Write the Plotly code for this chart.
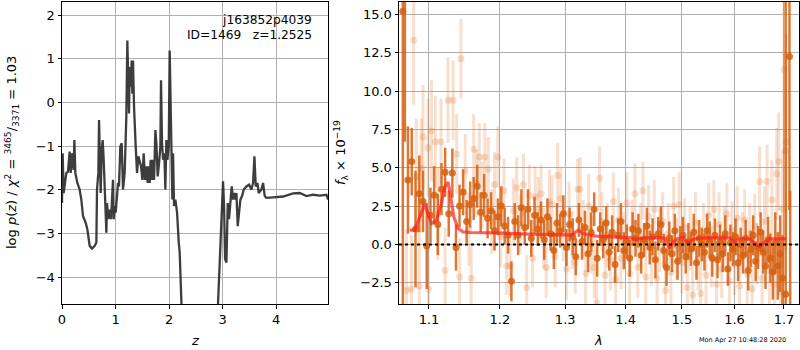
import plotly.graph_objects as go
import math

# ---------------- left panel: log p(z) ----------------
z_grid = [0.000, 0.012, 0.031, 0.056, 0.081, 0.112, 0.143, 0.162, 0.193, 0.218,
          0.231, 0.249, 0.287, 0.330, 0.361, 0.393, 0.442, 0.474, 0.517, 0.561,
          0.611, 0.642, 0.654, 0.679, 0.692, 0.704, 0.723, 0.742, 0.760, 0.779,
          0.798, 0.829, 0.841, 0.866, 0.891, 0.916, 0.928, 0.953, 0.966, 0.984,
          1.003, 1.028, 1.047, 1.065, 1.090, 1.115, 1.140, 1.171, 1.202, 1.221,
          1.240, 1.252, 1.265, 1.283, 1.302, 1.315, 1.327, 1.346, 1.377, 1.402,
          1.427, 1.452, 1.477, 1.502, 1.526, 1.551, 1.576, 1.601, 1.620, 1.639,
          1.657, 1.676, 1.701, 1.720, 1.745, 1.763, 1.788, 1.813, 1.838, 1.850,
          1.869, 1.888, 1.913, 1.931, 1.950, 1.969, 1.994, 2.012, 2.031, 2.050,
          2.062, 2.075, 2.093, 2.118, 2.150, 2.181, 2.199, 2.231, 2.300, 2.600,
          2.880, 2.916, 2.947, 2.978, 3.009, 3.028, 3.047, 3.072, 3.097, 3.121,
          3.146, 3.171, 3.196, 3.215, 3.240, 3.259, 3.283, 3.308, 3.333, 3.364,
          3.396, 3.445, 3.495, 3.539, 3.570, 3.595, 3.620, 3.651, 3.676, 3.726,
          3.757, 3.788, 3.819, 3.944, 4.131, 4.318, 4.442, 4.567, 4.692, 4.816,
          4.941, 4.972]
log_pz = [-2.30, -1.16, -2.07, -1.77, -1.61, -1.58, -1.12, -1.61, -1.16, -1.54,
          -0.86, -1.61, -1.84, -1.99, -2.22, -2.60, -2.75, -2.90, -3.28, -3.34,
          -3.28, -3.20, -1.99, -1.61, -0.40, -1.08, -2.07, -1.08, -0.86, -1.31,
          -2.07, -2.98, -2.30, -2.67, -2.45, -2.67, -2.37, -1.77, -2.67, -2.37,
          -2.52, -2.22, -1.84, -1.92, -1.01, -0.93, -1.99, -1.61, -0.33, 1.42,
          0.05, -0.25, 0.81, 0.36, 0.96, 0.20, 0.96, -0.10, -1.01, -1.61,
          -1.23, -1.39, -1.46, -1.77, -1.16, -1.77, -1.46, -1.84, -1.46, -1.84,
          -1.31, -1.77, -1.31, -1.77, -0.63, -0.93, -1.69, -1.39, -1.01, 0.51,
          -0.93, -1.31, -1.16, -1.99, -0.86, -1.31, -1.01, 1.19, -0.48, -1.31,
          -2.22, -1.16, -2.37, -2.22, -2.52, -3.20, -3.43, -4.57, -6.50, -9.00,
          -6.00, -4.58, -3.73, -2.98, -1.80, -2.37, -3.58, -3.66, -2.30, -2.67,
          -2.30, -1.92, -2.22, -2.07, -2.22, -2.07, -2.83, -2.45, -2.22, -2.14,
          -1.99, -1.92, -1.88, -1.99, -1.84, -1.23, -1.92, -1.84, -2.07, -1.99,
          -1.84, -2.14, -2.18, -2.17, -2.15, -2.08, -2.07, -2.14, -2.11, -2.13,
          -2.11, -2.22]

# ---------------- right panel: spectrum ----------------
# model
lam_model = [1.0743, 1.0810, 1.0876, 1.0943, 1.0987, 1.1033, 1.1101, 1.1168, 1.1215, 1.1260,
             1.1290, 1.1340, 1.1400, 1.1470, 1.1565, 1.1949, 1.2448, 1.2966, 1.3100, 1.3207,
             1.3289, 1.3509, 1.3844, 1.4070, 1.4189, 1.4305, 1.4601, 1.4690, 1.4768, 1.4841,
             1.4931, 1.5023, 1.5115, 1.5207, 1.5333, 1.5908, 1.6005, 1.6105, 1.6302, 1.6437,
             1.6503, 1.6570, 1.6707, 1.6845, 1.7040]
flux_model = [0.93, 0.93, 1.80, 2.62, 2.01, 1.36, 1.58, 2.66, 3.74, 4.07,
              3.31, 1.80, 1.04, 0.82, 0.78, 0.76, 0.67, 0.61, 0.61, 0.93,
              0.71, 0.54, 0.50, 0.45, 0.32, 0.43, 0.45, 0.39, -0.26, 0.17,
              0.39, 0.45, 0.06, 0.32, 0.43, 0.43, 0.17, 0.37, 0.37, -0.04,
              -0.15, 0.06, 0.37, 0.39, 0.37]

# binned (dark) points
lam_dark = [1.0653, 1.0680,
            1.072, 1.077, 1.082, 1.087, 1.092, 1.097, 1.102, 1.107, 1.112, 1.117,
            1.122, 1.127, 1.132, 1.137, 1.142, 1.147, 1.152, 1.157, 1.162, 1.167,
            1.172, 1.177, 1.182, 1.187, 1.192, 1.197, 1.202, 1.207, 1.212, 1.217,
            1.222, 1.227, 1.232, 1.237, 1.242, 1.247, 1.252, 1.257, 1.262, 1.267,
            1.272, 1.277, 1.282, 1.287, 1.292, 1.297, 1.302, 1.307, 1.312, 1.317,
            1.322, 1.327, 1.332, 1.337, 1.342, 1.347, 1.352, 1.357, 1.362, 1.367,
            1.372, 1.377, 1.382, 1.387, 1.392, 1.397, 1.402, 1.407, 1.412, 1.417,
            1.422, 1.427, 1.432, 1.437, 1.442, 1.447, 1.452, 1.457, 1.462, 1.467,
            1.472, 1.477, 1.482, 1.487, 1.492, 1.497, 1.502, 1.507, 1.512, 1.517,
            1.522, 1.527, 1.532, 1.537, 1.542, 1.547, 1.552, 1.557, 1.562, 1.567,
            1.572, 1.577, 1.582, 1.587, 1.592, 1.597, 1.602, 1.607, 1.612, 1.617,
            1.622, 1.627, 1.632, 1.637, 1.642, 1.647, 1.652, 1.657, 1.662, 1.667,
            1.672, 1.677, 1.682, 1.687, 1.692, 1.697,
            1.7035, 1.7115, 1.7130]
flux_dark = [15.2, 20.0,
             4.2, 5.4, 1.0, 3.3, 2.8, -0.1, 1.9, 3.2, 1.3, 3.6,
             4.7, 2.0, 4.65, -0.2, 2.5, 3.4, 1.5, 2.6, 3.0, 3.8,
             2.1, 3.2, 1.7, 2.2, 0.9, 1.8, 2.5, 1.2, 0.6, -2.4,
             1.5, 0.6, 2.4, 1.1, 2.3, 0.4, 1.9, 1.0, 1.6, 0.3,
             1.8, 0.7, -0.4, 1.4, 0.9, 2.0, -0.2, 1.3, 0.5, -0.8,
             1.6, 0.2, 1.1, -0.6, 0.8, 2.3, -0.9, 1.0, 0.3, 1.4,
             -0.5, 0.8, -1.3, 0.6, 1.5, -0.4, 0.2, -0.9, 1.0, 0.4,
             0.9, -0.7, 0.3, 1.2, -0.2, 0.5, -1.0, 0.7, 1.3, -0.4,
             -1.5, 0.4, -0.6, 0.9, -1.1, 0.1, 0.6, -0.8, 0.2, -0.3,
             0.8, -1.2, 0.4, 0.0, -0.5, 0.9, 0.3, -0.9, 0.6, -1.0,
             0.2, -0.6, 0.7, -1.6, 0.1, -0.3, 0.5, -1.2, 0.0, -0.7,
             0.4, -1.7, -0.3, 0.6, -1.1, -0.2, 0.8, -0.5, -1.4, 0.3,
             -0.9, -1.8, 0.1, -1.4, -0.6, -2.2,
             -3.25, 12.25, -5.0]
err_dark = [25.0, 13.3,
            3.5, 2.2, 3.8, 2.5, 2.0, 2.8, 1.8, 1.9, 2.0, 1.7,
            1.6, 1.5, 1.6, 1.5, 1.4, 1.5, 1.4, 1.5, 1.4, 1.4,
            1.3, 1.4, 1.3, 1.2, 1.3, 1.2, 1.3, 1.2, 1.2, 1.3,
            1.2, 1.3, 1.2, 1.1, 1.3, 1.2, 1.2, 1.1, 1.2, 1.3,
            1.2, 1.1, 1.2, 1.3, 1.1, 1.2, 1.2, 1.1, 1.2, 1.2,
            1.1, 1.2, 1.1, 1.2, 1.3, 1.1, 1.2, 1.1, 1.2, 1.1,
            1.2, 1.1, 1.2, 1.1, 1.2, 1.2, 1.1, 1.2, 1.1, 1.2,
            1.1, 1.2, 1.1, 1.2, 1.1, 1.2, 1.2, 1.1, 1.2, 1.1,
            1.2, 1.1, 1.2, 1.1, 1.2, 1.1, 1.2, 1.1, 1.2, 1.1,
            1.2, 1.1, 1.2, 1.1, 1.2, 1.1, 1.2, 1.2, 1.1, 1.2,
            1.1, 1.2, 1.2, 1.1, 1.2, 1.1, 1.2, 1.2, 1.1, 1.2,
            1.2, 1.3, 1.2, 1.3, 1.3, 1.4, 1.3, 1.4, 1.5, 1.5,
            1.6, 1.8, 2.0, 2.2, 2.5, 2.8,
            25.0, 10.0, 8.5]

# unbinned (light) points
lam_light = [1.0700, 1.0765, 1.0795, 1.0830, 1.0870, 1.0900, 1.0920, 1.0987, 1.0995, 1.1033,
             1.1085, 1.1120, 1.1163, 1.1220, 1.1260, 1.1330, 1.1380, 1.1420, 1.1440, 1.1500,
             1.1550, 1.1585, 1.1620, 1.1660, 1.1700, 1.1740, 1.1780, 1.1830, 1.1880, 1.1920,
             1.1970, 1.2010, 1.2060, 1.2100, 1.2150, 1.2200, 1.2250, 1.2300, 1.2350, 1.2400,
             1.2440, 1.2490, 1.2530, 1.2580, 1.2620, 1.2660, 1.2700, 1.2750, 1.2790, 1.2840,
             1.2880, 1.2930, 1.2970, 1.3020, 1.3060, 1.3110, 1.3160, 1.3200, 1.3240, 1.3290,
             1.3330, 1.3380, 1.3420, 1.3470, 1.3510, 1.3560, 1.3600, 1.3650, 1.3690, 1.3740,
             1.3790, 1.3830, 1.3880, 1.3920, 1.3970, 1.4020, 1.4070, 1.4110, 1.4160, 1.4210,
             1.4260, 1.4300, 1.4350, 1.4400, 1.4450, 1.4500, 1.4550, 1.4600, 1.4650, 1.4700,
             1.4750, 1.4800, 1.4850, 1.4900, 1.4950, 1.5000, 1.5050, 1.5100, 1.5150, 1.5200,
             1.5250, 1.5300, 1.5350, 1.5400, 1.5450, 1.5500, 1.5550, 1.5600, 1.5650, 1.5700,
             1.5750, 1.5800, 1.5850, 1.5900, 1.5950, 1.6000, 1.6050, 1.6100, 1.6150, 1.6200,
             1.6250, 1.6300, 1.6350, 1.6400, 1.6450, 1.6500, 1.6550, 1.6600, 1.6650, 1.6700,
             1.6750, 1.6800, 1.6850, 1.6890, 1.6930, 1.6970, 1.7000, 1.7030, 1.7045]
flux_light = [-3.0, -2.9, 13.3, 4.4, -2.7, 5.0, 7.0, 6.3, -2.9, 7.4,
              6.7, 2.0, 6.7, -1.7, 9.4, 9.4, 5.9, -2.1, 12.1, 4.8,
              1.0, -2.2, 6.2, 4.0, 5.7, 3.2, 5.7, 4.9, 1.5, 3.9,
              5.7, 0.5, 3.5, -1.4, -1.4, 2.2, 3.7, 1.3, 3.9, -2.8,
              3.2, -0.9, 3.1, 2.3, 3.3, 0.4, -1.5, 2.8, 2.6, -0.8,
              4.5, 3.0, 0.8, -1.6, 2.0, 0.3, -1.2, 3.6, 3.6, 1.0,
              -1.9, 2.5, 0.0, -1.5, -3.8, 4.3, 1.5, -2.0, 0.6, -1.0,
              2.8, -2.3, 1.6, -0.9, 0.2, 2.7, -1.9, 1.0, 3.3, -1.5,
              0.6, 3.5, -2.1, 1.8, -0.7, 2.3, -2.2, 0.3, 1.5, -3.0,
              0.7, -1.8, 2.5, -0.3, 2.6, -1.2, 1.1, -2.8, 0.4, -3.3,
              1.4, -1.0, -3.2, 0.8, -2.0, 1.9, -0.8, 2.3, -2.6, 1.3,
              -1.6, 0.5, 2.0, -2.4, 0.9, -1.3, 1.7, -2.7, 0.2, 1.6,
              -1.9, 0.7, -2.9, 1.2, -0.6, 4.1, -2.2, 1.5, 4.1, -1.7,
              2.9, -2.6, 4.6, 5.4, -3.1, 2.3, 11.4, 6.1, 6.7]
err_light = [4.0, 3.5, 4.2, 3.8, 3.6, 3.2, 3.4, 3.2, 3.0, 3.3,
             3.0, 3.0, 2.8, 2.8, 2.8, 2.6, 2.6, 2.5, 2.6, 2.4,
             2.4, 2.3, 2.3, 2.2, 2.2, 2.2, 2.2, 2.1, 2.1, 2.1,
             2.0, 2.0, 2.1, 1.9, 2.0, 2.1, 2.0, 1.9, 2.0, 2.1,
             2.0, 1.9, 2.0, 2.1, 1.9, 2.0, 2.0, 2.1, 1.9, 2.0,
             2.1, 2.0, 1.9, 2.0, 2.1, 1.9, 2.0, 2.0, 2.1, 1.9,
             2.0, 2.1, 1.9, 2.0, 2.0, 2.1, 1.9, 2.0, 2.1, 2.0,
             1.9, 2.0, 2.1, 2.0, 1.9, 2.0, 2.1, 1.9, 2.0, 2.0,
             2.1, 1.9, 2.0, 2.1, 2.0, 1.9, 2.0, 2.1, 1.9, 2.0,
             2.0, 2.1, 1.9, 2.0, 2.1, 2.0, 1.9, 2.0, 2.1, 1.9,
             2.0, 2.0, 2.1, 1.9, 2.0, 2.1, 2.0, 1.9, 2.0, 2.1,
             1.9, 2.0, 2.0, 2.1, 1.9, 2.0, 2.1, 2.0, 1.9, 2.0,
             2.1, 2.0, 2.0, 2.1, 2.0, 2.3, 2.2, 2.3, 2.4, 2.5,
             2.6, 2.8, 3.0, 3.2, 3.5, 3.8, 5.5, 6.5, 7.0]

lam_ticks = [1.1, 1.2, 1.3, 1.4, 1.5, 1.6, 1.7]
lam_tick_text = ["1.1", "1.2", "1.3", "1.4", "1.5", "1.6", "1.7"]
flux_ticks = [-2.5, 0.0, 2.5, 5.0, 7.5, 10.0, 12.5, 15.0]

FONT = "DejaVu Sans"
ORANGE_DARK = "rgba(214,96,16,0.85)"
ORANGE_LIGHT = "rgba(224,110,30,0.22)"

W, H = 800, 350
fig = go.Figure()

fig.add_trace(go.Scatter(x=z_grid, y=log_pz, mode="lines",
                         line=dict(color="rgba(40,40,40,0.9)", width=2.3),
                         xaxis="x", yaxis="y", showlegend=False))

fig.add_trace(go.Scatter(x=lam_light, y=flux_light, mode="markers",
                         marker=dict(color=ORANGE_LIGHT, size=7, line=dict(width=0)),
                         error_y=dict(type="data", array=err_light, color=ORANGE_LIGHT,
                                      thickness=3, width=0),
                         xaxis="x2", yaxis="y2", showlegend=False))
fig.add_trace(go.Scatter(x=lam_dark, y=flux_dark, mode="markers",
                         marker=dict(color=ORANGE_DARK, size=7, line=dict(width=0)),
                         error_y=dict(type="data", array=err_dark, color=ORANGE_DARK,
                                      thickness=2.5, width=0),
                         xaxis="x2", yaxis="y2", showlegend=False))
fig.add_trace(go.Scatter(x=lam_model, y=flux_model, mode="lines",
                         line=dict(color="rgba(255,30,30,0.7)", width=3.2),
                         xaxis="x2", yaxis="y2", showlegend=False))
fig.add_trace(go.Scatter(x=[1.0603, 1.7316], y=[0, 0], mode="lines",
                         line=dict(color="black", width=2, dash="dot"),
                         xaxis="x2", yaxis="y2", showlegend=False))

ax_common = dict(showline=True, mirror=True, linecolor="black", linewidth=1,
                 ticks="outside", ticklen=3.5, tickwidth=1, tickcolor="black",
                 showgrid=True, gridcolor="#b0b0b0", gridwidth=1, zeroline=False,
                 tickfont=dict(family=FONT, size=13, color="black"), automargin=False)

ydom = [1 - 304 / H, 1 - 2 / H]
fig.update_layout(
    width=W, height=H, margin=dict(l=0, r=0, t=0, b=0),
    paper_bgcolor="white", plot_bgcolor="white",
    font=dict(family=FONT, size=13, color="black"),
    xaxis=dict(domain=[62 / W, 328 / W], range=[0, 4.97], dtick=1, tick0=0,
               anchor="y", **ax_common),
    yaxis=dict(domain=ydom, range=[-4.61, 2.30], dtick=1, tick0=0,
               anchor="x", **ax_common),
    xaxis2=dict(domain=[399 / W, 799 / W], type="log",
                range=[math.log10(1.0603), math.log10(1.7316)],
                tickvals=lam_ticks, ticktext=lam_tick_text, anchor="y2", **ax_common),
    yaxis2=dict(domain=ydom, range=[-3.88, 15.8], tickvals=flux_ticks,
                tickformat=".1f", anchor="x2", **ax_common),
)

annos = [
    dict(text="<i>z</i>", x=195, y=340),
    dict(text="<i>λ</i>", x=598, y=340),
    dict(text="log <i>p</i>(<i>z</i>) / <i>χ</i><sup>2</sup> = <sup>3465</sup>/<sub>3371</sub> = 1.03",
         x=12, y=153, textangle=-90),
    dict(text="<i>f</i><sub>λ</sub> × 10<sup>−19</sup>", x=341, y=153, textangle=-90),
]
for a in annos:
    fig.add_annotation(text=a["text"], xref="paper", yref="paper",
                       x=a["x"] / W, y=1 - a["y"] / H, xanchor="center", yanchor="middle",
                       textangle=a.get("textangle", 0), showarrow=False,
                       font=dict(family=FONT, size=13, color="black"))

fig.add_annotation(text="j163852p4039", xref="paper", yref="paper",
                   x=314 / W, y=1 - 20 / H, xanchor="right", yanchor="middle",
                   showarrow=False, font=dict(family=FONT, size=12.2, color="black"))
fig.add_annotation(text="ID=1469   z=1.2525", xref="paper", yref="paper",
                   x=314 / W, y=1 - 35 / H, xanchor="right", yanchor="middle",
                   showarrow=False, font=dict(family=FONT, size=12.2, color="black"))
fig.add_annotation(text="Mon Apr 27 10:48:28 2020", xref="paper", yref="paper",
                   x=788 / W, y=1 - 340 / H, xanchor="right", yanchor="middle",
                   showarrow=False, font=dict(family=FONT, size=6.5, color="black"))

fig.write_html("out.html", config={"displayModeBar": False},
               post_script="document.body.style.margin='0';document.body.style.overflow='hidden';")
